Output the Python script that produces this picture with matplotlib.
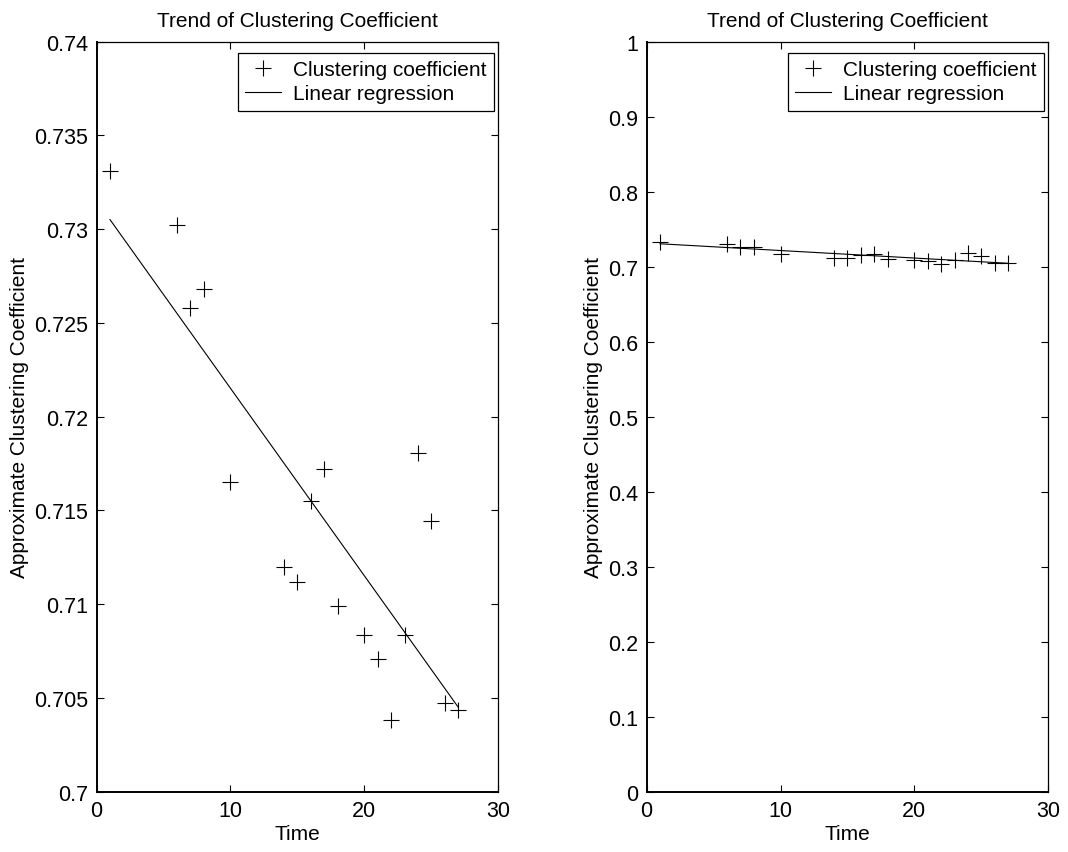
import numpy as np
import matplotlib
matplotlib.use("Agg")
import matplotlib.pyplot as plt
from matplotlib.ticker import FormatStrFormatter, FuncFormatter

plt.rcParams['font.family'] = ['Liberation Sans', 'DejaVu Sans']

# values
time = [1, 6, 7, 8, 10, 14, 15, 16, 17, 18, 20, 21, 22, 23, 24, 25, 26, 27]
coeff = [0.73308, 0.73021, 0.72577, 0.72680, 0.71650, 0.71196, 0.71116, 0.71548,
         0.71719, 0.70988, 0.70836, 0.70706, 0.70383, 0.70836, 0.71808, 0.71443,
         0.70473, 0.70434]

title = 'Trend of Clustering Coefficient'
xlabel = 'Time'
ylabel = 'Approximate Clustering Coefficient'
left_yticks = [0.7, 0.705, 0.71, 0.715, 0.72, 0.725, 0.73, 0.735, 0.74]
right_yticks = [0, 0.1, 0.2, 0.3, 0.4, 0.5, 0.6, 0.7, 0.8, 0.9, 1]
xticks = [0, 10, 20, 30]

x = np.array(time)
y = np.array(coeff)
slope, icpt = np.polyfit(x, y, 1)
xr = np.array([x.min(), x.max()])
yr = slope * xr + icpt

fig = plt.figure(figsize=(10.68, 8.53), dpi=100)
ax1 = fig.add_axes([0.0904, 0.0707, 0.3762, 0.8793])
ax2 = fig.add_axes([0.6055, 0.0707, 0.3760, 0.8793])


def fmt(v, pos):
    return ('%g' % round(v, 4))


for ax, yt in ((ax1, left_yticks), (ax2, right_yticks)):
    ax.plot(x, y, '+', color='k', markersize=11, markeredgewidth=0.8,
            label='Clustering coefficient')
    ax.plot(xr, yr, '-', color='k', linewidth=0.8, label='Linear regression')
    ax.set_xlim(0, 30)
    ax.set_ylim(yt[0], yt[-1])
    ax.set_xticks(xticks)
    ax.set_yticks(yt)
    ax.yaxis.set_major_formatter(FuncFormatter(fmt))
    ax.tick_params(direction='in', length=5, width=0.8, top=True, right=True,
                   labelsize=15.5, pad=6)
    for s in ax.spines.values():
        s.set_linewidth(0.9)
    ax.spines['bottom'].set_linewidth(1.4)
    ax.spines['left'].set_linewidth(1.4)
    ax.set_title(title, fontsize=15, pad=11)
    ax.set_xlabel(xlabel, fontsize=15, labelpad=2)
    ax.set_ylabel(ylabel, fontsize=15, labelpad=4)
    leg = ax.legend(loc='upper right', bbox_to_anchor=(0.989, 0.985),
                    borderaxespad=0, fontsize=15, fancybox=False,
                    edgecolor='k', framealpha=1, handlelength=1.7,
                    handletextpad=0.6, borderpad=0.35, labelspacing=0.25)
    leg.get_frame().set_linewidth(0.9)

fig.savefig('out.png', dpi=100)
